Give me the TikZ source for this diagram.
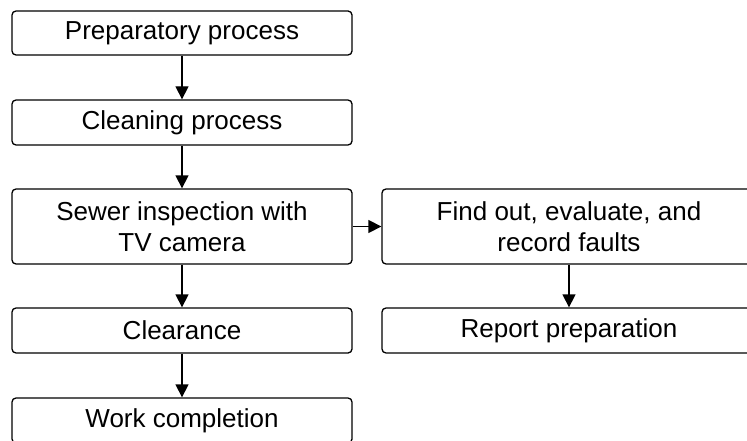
\documentclass[tikz,border=0pt]{standalone}
\usepackage{fontspec}
\setmainfont{Liberation Sans}
\usetikzlibrary{arrows.meta}

\begin{document}
\begin{tikzpicture}[x=1pt,y=-1pt,
  box/.style={draw,line width=1.3pt,rounded corners=4pt,align=center,
    inner sep=0pt,font=\fontsize{26}{31}\selectfont},
  lbox/.style={box,minimum width=340pt},
  rbox/.style={box,minimum width=374pt},
  arr/.style={line width=1.3pt,-{Triangle[length=13pt,width=13pt]}}]
\clip (0,0) rectangle (747,441);

\node[lbox,minimum height=44pt] (11) at (182,33) {Preparatory process};
\node[lbox,minimum height=45pt] (12) at (182,122.5) {Cleaning process};
\node[lbox,minimum height=75pt] (13) at (182,226.5) {Sewer inspection with\\TV camera};
\node[lbox,minimum height=45pt] (14) at (182,330.5) {Clearance};
\node[lbox,minimum height=45pt] (15) at (182,420.5) {Work completion};

\node[rbox,minimum height=75pt] (21) at (569,226.5) {Find out, evaluate, and\\record faults};
\node[rbox,minimum height=45pt] (22) at (569,330.5) {Report preparation};

\draw[arr] (11) -- (12);
\draw[arr] (12) -- (13);
\draw[arr] (13) -- (14);
\draw[arr] (14) -- (15);
\draw[arr] (13) -- (21);
\draw[arr] (21) -- (22);
\end{tikzpicture}
\end{document}
